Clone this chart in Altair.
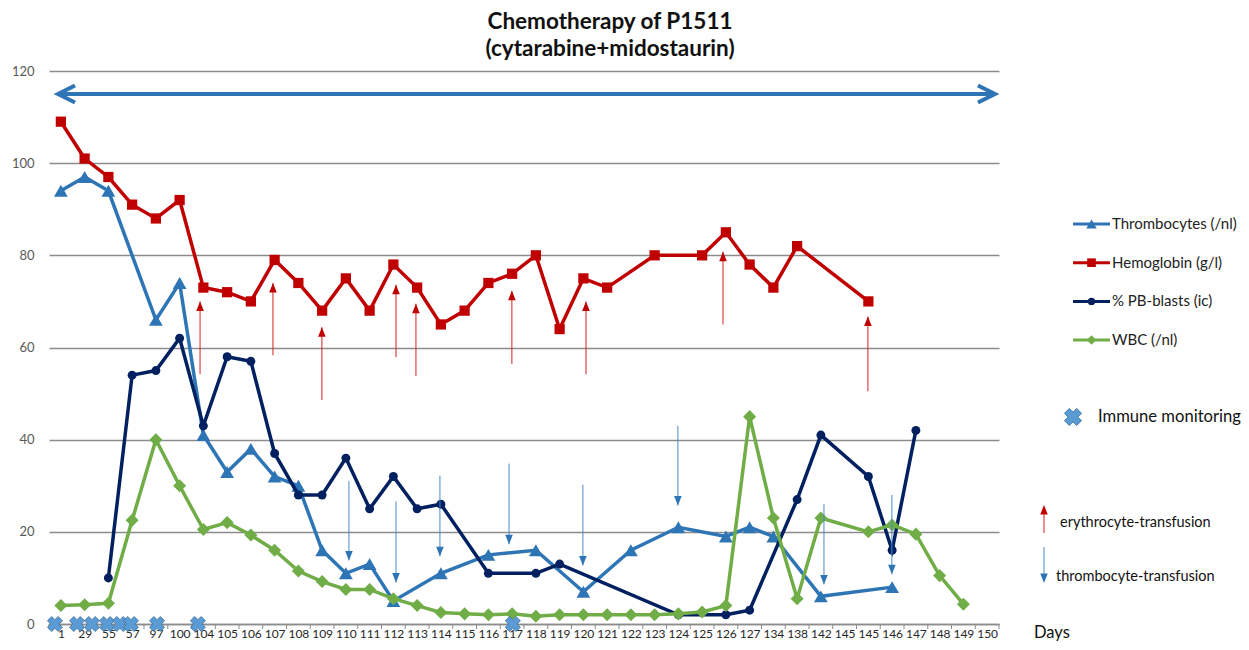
import altair as alt
import pandas as pd

N = None
days = ["1", "29", "55", "57", "97", "100", "104", "105", "106", "107", "108", "109",
        "110", "111", "112", "113", "114", "115", "116", "117", "118", "119", "120",
        "121", "122", "123", "124", "125", "126", "127", "134", "138", "142", "145",
        "145", "146", "147", "148", "149", "150"]

thrombocytes = [94, 97, 94, N, 66, 74, 41, 33, 38, 32, 30, 16, 11, 13, 5, N, 11, N, 15, N,
                16, N, 7, N, 16, N, 21, N, 19, 21, 19, N, 6, N, N, 8, N, N, N, N]
hemoglobin = [109, 101, 97, 91, 88, 92, 73, 72, 70, 79, 74, 68, 75, 68, 78, 73, 65, 68, 74, 76,
              80, 64, 75, 73, N, 80, N, 80, 85, 78, 73, 82, N, N, 70, N, N, N, N, N]
blasts = [N, N, 10, 54, 55, 62, 43, 58, 57, 37, 28, 28, 36, 25, 32, 25, 26, N, 11, N,
          11, 13, N, N, N, N, 2, N, 2, 3, N, 27, 41, N, 32, 16, 42, N, N, N]
wbc = [4, 4.2, 4.5, 22.5, 40, 30, 20.5, 22, 19.3, 16, 11.5, 9.2, 7.5, 7.5, 5.5, 4, 2.5, 2.2, 2, 2.2,
       1.7, 2, 2, 2, 2, 2, 2.2, 2.6, 4, 45, 23, 5.5, 23, N, 20, 21.5, 19.5, 10.5, 4.3, N]

immune_pos = [-0.25, 0.68, 1.31, 1.94, 2.49, 2.95, 4.05, 5.77, 19.03]

ery_pos = [5.86, 8.93, 10.99, 14.11, 14.95, 18.99, 22.11, 27.88, 33.98]
ery_from = [54.2, 58.3, 48.6, 57.9, 53.8, 56.4, 54.2, 65, 50.5]
ery_to = [70, 74, 64.4, 73.6, 69.5, 72.3, 70, 80.8, 66.7]

thr_pos = [12.13, 14.11, 15.96, 18.87, 21.98, 25.98, 32.13, 34.99]
thr_from = [31, 26.6, 32.2, 34.8, 30.2, 43, 26, 28]
thr_to = [13.8, 9, 14.7, 17.3, 12.7, 25.7, 8.6, 10.8]

period_start, period_end, period_level = -0.12, 39.33, 115

FONT = "Lato"
W, H = 950, 553

series = [
    ("Thrombocytes (/nl)", thrombocytes, "#2E75B6", "triangle-up", 190, 110),
    ("Hemoglobin (g/l)", hemoglobin, "#C00000", "square", 105, 75),
    ("% PB-blasts (ic)", blasts, "#002060", "circle", 80, 55),
    ("WBC (/nl)", wbc, "#70AD47", "diamond", 170, 90),
]

x_scale = alt.Scale(domain=[-0.5, 39.5], nice=False, zero=False)
y_scale = alt.Scale(domain=[0, 120], nice=False)
label_expr = "[" + ",".join("'%s'" % d for d in days) + "][datum.value]"

x_axis = alt.Axis(
    values=list(range(len(days))), labelExpr=label_expr, title=None, grid=False,
    ticks=False, domain=True, domainColor="#8C8C8C", domainWidth=1.3,
    labelFont=FONT, labelFontSize=12, labelColor="#262626", labelPadding=4,
    labelOverlap=False, labelFlush=False, labelAngle=0)
y_axis = alt.Axis(
    values=[0, 20, 40, 60, 80, 100, 120], title=None, grid=True, gridColor="#8C8C8C",
    gridWidth=1.3, ticks=False, domain=False, labelFont=FONT, labelFontSize=13,
    labelColor="#595959", labelPadding=15)


def X(f):
    return alt.X(f, scale=x_scale, axis=x_axis, title=None)


def Y(f):
    return alt.Y(f, scale=y_scale, axis=y_axis, title=None)


one = pd.DataFrame({"k": [0]})
layers = []

# x ticks at category boundaries (also carries the axes)
ticks_df = pd.DataFrame({"idx": [i - 0.5 for i in range(len(days) + 1)], "y0": 0})
layers.append(
    alt.Chart(ticks_df).mark_rule(color="#8C8C8C", strokeWidth=1).encode(
        x=X("idx:Q"), y=Y("y0:Q"), y2=alt.value(H + 5)))

# period double arrow
pdf = pd.DataFrame({"a": [period_start], "b": [period_end], "y": [period_level]})
layers.append(alt.Chart(pdf).mark_rule(color="#2E75B6", strokeWidth=4).encode(
    x=X("a:Q"), x2="b:Q", y=Y("y:Q")))
layers.append(alt.Chart(pdf).mark_point(shape="M2,-1L0,0L2,1", filled=False, color="#2E75B6",
                                        strokeWidth=4, size=289, opacity=1).encode(
    x=X("a:Q"), y=Y("y:Q")))
layers.append(alt.Chart(pdf).mark_point(shape="M-2,-1L0,0L-2,1", filled=False, color="#2E75B6",
                                        strokeWidth=4, size=289, opacity=1).encode(
    x=X("b:Q"), y=Y("y:Q")))

# data series
for name, vals, color, shape, size, lsize in series:
    d = pd.DataFrame([{"idx": i, "value": v} for i, v in enumerate(vals) if v is not None])
    layers.append(alt.Chart(d).mark_line(color=color, strokeWidth=3.5).encode(
        x=X("idx:Q"), y=Y("value:Q")))
    layers.append(alt.Chart(d).mark_point(shape=shape, filled=True, color=color, size=size,
                                          opacity=1).encode(x=X("idx:Q"), y=Y("value:Q")))

# transfusion arrows
edf = pd.DataFrame({"idx": ery_pos, "y1": ery_from, "y2": ery_to})
layers.append(alt.Chart(edf).mark_rule(color="#D42020", strokeWidth=1).encode(
    x=X("idx:Q"), y=Y("y1:Q"), y2="y2:Q"))
layers.append(alt.Chart(edf).mark_point(shape="M0,0L-0.8,2L0.8,2Z", filled=True, color="#C00000",
                                        size=90, opacity=1).encode(x=X("idx:Q"), y=Y("y2:Q")))

tdf = pd.DataFrame({"idx": thr_pos, "y1": thr_from, "y2": thr_to})
layers.append(alt.Chart(tdf).mark_rule(color="#4A8AC8", strokeWidth=1).encode(
    x=X("idx:Q"), y=Y("y1:Q"), y2="y2:Q"))
layers.append(alt.Chart(tdf).mark_point(shape="M0,0L-0.8,-2L0.8,-2Z", filled=True, color="#2E75B6",
                                        size=90, opacity=1).encode(x=X("idx:Q"), y=Y("y2:Q")))

# immune monitoring crosses
idf = pd.DataFrame({"idx": immune_pos, "y": 0})
layers.append(alt.Chart(idf).mark_point(shape="cross", angle=45, filled=True, fill="#5B9BD5",
                                        stroke="#41719C", strokeWidth=0.8, size=230,
                                        opacity=1).encode(x=X("idx:Q"), y=Y("y:Q")))

# legend (drawn in pixel space to the right of the plot)
LX0, LX1 = W + 74, W + 111
LY0, LSTEP = 153, 38.7
for k, (name, vals, color, shape, size, lsize) in enumerate(series):
    yy = LY0 + k * LSTEP
    c = alt.Chart(one)
    layers.append(c.mark_rule(color=color, strokeWidth=3).encode(
        x=alt.value(LX0), x2=alt.value(LX1), y=alt.value(yy)))
    layers.append(c.mark_point(shape=shape, filled=True, color=color, size=lsize, opacity=1).encode(
        x=alt.value((LX0 + LX1) / 2), y=alt.value(yy)))
    layers.append(c.mark_text(text=name, align="left", baseline="middle", font=FONT,
                              fontSize=15, color="#222222").encode(
        x=alt.value(LX1 + 2), y=alt.value(yy)))

c = alt.Chart(one)
layers.append(c.mark_point(shape="cross", angle=45, filled=True, fill="#5B9BD5", stroke="#41719C",
                           strokeWidth=0.8, size=300, opacity=1).encode(
    x=alt.value(LX0), y=alt.value(346)))
layers.append(c.mark_text(text="Immune monitoring", align="left", baseline="middle", font=FONT,
                          fontSize=16.6, color="#111111").encode(x=alt.value(LX0 + 25), y=alt.value(346)))

AX = W + 45
layers.append(c.mark_rule(color="#D42020", strokeWidth=1).encode(
    x=alt.value(AX), y=alt.value(462), y2=alt.value(436)))
layers.append(c.mark_point(shape="M0,0L-0.8,2L0.8,2Z", filled=True, color="#C00000", size=90,
                           opacity=1).encode(x=alt.value(AX), y=alt.value(434)))
layers.append(c.mark_text(text="erythrocyte-transfusion", align="left", baseline="middle",
                          font=FONT, fontSize=14.5, color="#111111").encode(
    x=alt.value(AX + 16), y=alt.value(452)))
layers.append(c.mark_rule(color="#4A8AC8", strokeWidth=1).encode(
    x=alt.value(AX), y=alt.value(476), y2=alt.value(510)))
layers.append(c.mark_point(shape="M0,0L-0.8,-2L0.8,-2Z", filled=True, color="#2E75B6", size=90,
                           opacity=1).encode(x=alt.value(AX), y=alt.value(512)))
layers.append(c.mark_text(text="thrombocyte-transfusion", align="left", baseline="middle",
                          font=FONT, fontSize=14.5, color="#111111").encode(
    x=alt.value(AX + 12), y=alt.value(506)))

layers.append(c.mark_text(text="Days", align="left", baseline="middle", font=FONT, fontSize=16.5,
                          color="#111111").encode(x=alt.value(W + 35), y=alt.value(562)))

# title
layers.append(c.mark_text(text="Chemotherapy of P1511", align="center", baseline="middle",
                          font=FONT, fontSize=22.5, fontWeight="bold", color="#111111").encode(
    x=alt.value(561), y=alt.value(-49)))
layers.append(c.mark_text(text="(cytarabine+midostaurin)", align="center", baseline="middle",
                          font=FONT, fontSize=22.5, fontWeight="bold", color="#111111").encode(
    x=alt.value(561), y=alt.value(-22)))

chart = alt.layer(*layers).properties(
    width=W, height=H,
    autosize=alt.AutoSizeParams(type="none"),
    padding={"left": 41, "top": 63, "right": 242, "bottom": 18},
).configure_view(stroke=None)

chart.save("out.html", embed_options={"renderer": "svg", "actions": False})
